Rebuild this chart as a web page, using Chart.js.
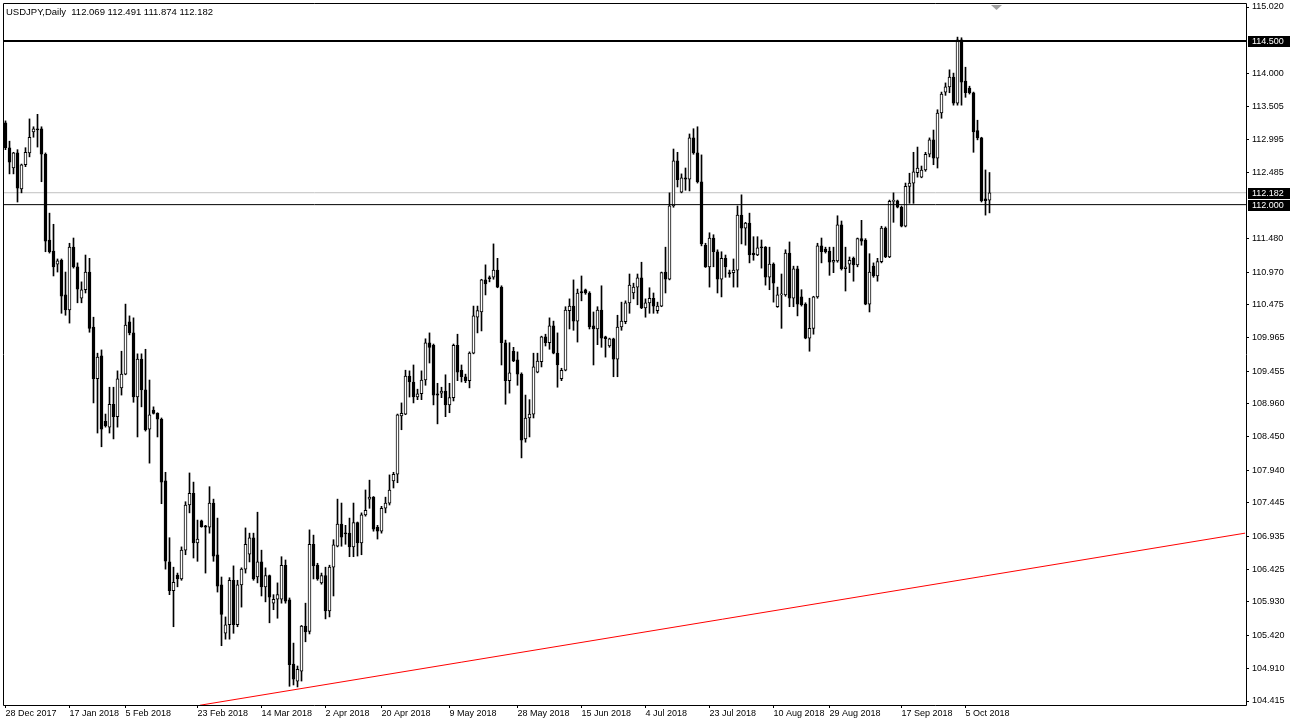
<!DOCTYPE html>
<html>
<head>
<meta charset="utf-8">
<title>USDJPY,Daily</title>
<script src="https://cdn.jsdelivr.net/npm/chart.js@4.4.1/dist/chart.umd.min.js"></script>
<style>
  html, body { margin: 0; padding: 0; background: #fff; }
  canvas { display: block; }
</style>
</head>
<body>
<canvas id="chart" width="1291" height="726"></canvas>
<script>
// USDJPY daily bars, 28 Dec 2017 .. 16 Oct 2018 (one value per bar)
var opens = [
  113.25,112.87,112.56,112.79,112.24,112.61,112.79,113.11,113.16,113.16,
  112.77,111.46,111.29,111.09,111.15,110.62,110.39,111.35,111.05,110.57,
  110.70,110.97,110.13,109.34,109.69,108.69,108.60,108.95,108.76,109.20,
  109.41,110.21,110.04,109.06,109.64,109.17,108.57,108.86,108.81,108.72,
  107.78,106.54,106.10,106.34,106.28,106.72,107.41,107.59,106.83,107.17,
  107.09,107.07,107.44,106.65,106.19,105.45,105.58,106.26,105.58,106.19,
  106.43,106.66,106.91,106.31,106.54,106.16,106.33,105.91,105.97,105.97,
  106.49,105.96,104.98,104.72,104.87,105.56,105.48,106.81,106.49,106.22,
  106.33,105.79,106.46,106.78,107.12,106.98,106.98,106.77,107.14,106.83,
  107.26,107.50,107.53,107.07,107.01,107.36,107.44,107.78,107.88,108.77,
  108.80,109.38,109.29,109.06,109.11,109.32,109.89,109.85,109.11,109.12,
  109.15,108.94,109.05,109.85,109.47,109.37,109.31,109.73,110.28,110.36,
  110.85,110.88,110.89,111.00,110.74,109.89,109.31,109.76,109.63,109.41,
  108.42,108.74,108.80,109.44,109.60,109.98,109.89,110.15,109.73,109.34,
  109.47,110.38,110.45,110.22,110.67,110.70,110.65,110.15,110.10,110.39,
  109.98,109.84,109.95,109.64,110.13,110.21,110.50,110.65,110.74,110.88,
  110.42,110.50,110.57,110.38,110.45,110.97,110.86,111.98,112.67,112.19,
  112.41,112.39,113.02,112.79,112.35,111.38,111.05,111.49,111.28,110.86,
  111.18,110.96,110.96,111.00,111.84,111.64,111.72,111.26,111.23,111.35,
  111.35,110.89,111.09,110.44,110.62,110.62,111.26,110.57,111.02,110.59,
  110.48,109.96,110.11,110.59,111.37,111.32,111.29,111.12,111.14,111.69,
  111.02,111.09,111.18,111.08,111.48,111.46,110.48,111.06,110.91,111.13,
  111.64,111.20,112.05,112.06,111.96,111.67,112.28,112.33,112.49,112.42,
  112.53,112.77,112.99,112.71,113.40,113.72,113.80,113.95,113.55,114.52,
  113.89,113.78,113.71,113.13,113.02,112.09,112.069
];
var highs = [
  113.28,112.97,112.80,112.84,112.62,112.87,113.31,113.19,113.38,113.19,
  112.79,111.87,111.70,111.17,111.17,110.97,111.41,111.49,111.11,110.82,
  111.23,111.18,110.28,109.73,109.78,108.80,109.21,109.21,109.46,109.76,
  110.48,110.30,110.27,109.72,109.72,109.79,109.32,108.91,108.82,108.74,
  107.91,106.91,106.46,106.37,106.77,107.46,107.90,107.76,107.18,107.18,
  107.10,107.69,107.50,107.21,106.31,105.70,106.30,106.48,106.26,106.45,
  107.06,106.98,106.98,107.30,106.72,106.45,106.34,106.04,106.22,106.62,
  106.57,105.99,105.30,104.95,105.57,105.91,107.03,106.95,106.52,106.37,
  106.46,106.49,106.88,107.50,107.44,107.10,107.21,107.44,107.15,107.29,
  107.64,107.79,107.54,107.10,107.39,107.53,107.87,107.91,108.80,108.97,
  109.47,109.46,109.55,109.18,109.46,109.95,110.04,109.87,109.27,109.21,
  109.40,109.27,109.87,110.02,109.55,109.41,109.75,110.45,110.45,110.86,
  111.08,110.91,111.40,111.18,110.76,109.93,109.89,109.82,109.75,109.43,
  109.09,109.02,109.73,109.73,109.99,110.02,110.27,110.22,110.04,109.50,
  110.44,110.56,110.85,110.71,110.91,110.71,110.67,110.36,110.44,110.76,
  109.99,109.96,109.96,110.31,110.51,110.53,110.94,110.80,110.94,111.12,
  110.56,110.73,110.65,110.51,110.97,111.35,112.18,112.85,112.80,112.47,
  112.56,113.08,113.16,113.19,112.76,111.41,111.57,111.54,111.31,111.28,
  111.23,111.00,111.17,111.98,112.15,111.73,111.87,111.51,111.51,111.46,
  111.36,111.35,111.11,110.74,110.94,111.31,111.43,111.06,111.06,110.70,
  110.50,110.57,110.60,111.41,111.49,111.35,111.35,111.35,111.83,111.75,
  111.35,111.20,111.20,111.49,111.76,111.48,111.25,111.11,111.18,111.67,
  111.66,112.07,112.18,112.07,111.98,112.33,112.48,112.80,112.88,112.59,
  112.80,113.02,113.14,113.45,113.72,113.86,114.06,114.01,114.56,114.55,
  114.10,113.81,113.72,113.29,113.03,112.53,112.491
];
var lows = [
  112.84,112.47,112.47,112.04,112.18,112.58,112.73,113.03,112.88,112.35,
  111.28,111.26,110.91,110.97,110.34,110.31,110.19,111.03,110.50,110.50,
  110.65,110.05,108.97,108.51,108.30,108.60,108.51,108.42,108.60,109.09,
  109.40,110.01,108.98,108.45,108.91,108.54,108.05,108.80,108.45,107.43,
  106.43,106.04,105.55,106.16,106.26,106.65,107.29,106.60,106.55,107.07,
  106.37,106.98,106.55,106.08,105.26,105.36,105.36,105.45,105.55,105.85,
  106.37,106.54,106.26,106.22,106.02,105.93,105.61,105.81,105.68,105.91,
  105.91,104.64,104.66,104.63,104.72,105.32,105.44,106.28,106.26,106.20,
  105.67,105.70,106.02,106.77,106.78,106.81,106.62,106.62,106.63,106.65,
  107.24,107.36,107.01,106.89,106.98,107.29,107.41,107.67,107.75,108.56,
  108.79,109.06,108.97,109.02,109.02,109.24,109.58,108.94,108.65,109.05,
  108.76,108.82,109.00,109.31,109.29,109.28,109.20,109.72,110.04,110.07,
  110.62,110.82,110.86,110.73,109.55,108.95,109.12,109.60,109.24,108.13,
  108.37,108.45,108.74,109.43,109.52,109.84,109.79,109.72,109.21,109.31,
  109.46,110.10,110.08,109.90,110.53,110.63,110.10,109.55,109.86,109.82,
  109.67,109.82,109.37,109.37,110.08,110.18,110.34,110.56,110.47,110.41,
  110.28,110.34,110.34,110.34,110.44,110.65,110.85,111.96,112.27,112.18,
  112.22,112.21,112.77,112.33,111.37,111.04,110.74,111.05,110.65,110.59,
  110.89,110.89,110.74,110.74,111.40,111.38,111.11,111.15,111.22,111.03,
  110.77,110.70,110.51,110.43,110.11,110.60,110.44,110.44,110.30,110.45,
  109.95,109.76,110.02,110.57,111.11,111.26,110.92,110.96,111.12,111.00,
  110.68,110.96,110.83,111.05,111.38,110.47,110.36,110.89,110.83,111.11,
  111.19,111.19,111.73,111.95,111.66,111.66,112.02,112.02,112.42,112.41,
  112.51,112.73,112.61,112.56,113.32,113.67,113.71,113.52,113.52,113.52,
  113.64,113.69,112.80,112.99,112.04,111.84,111.874
];
var closes = [
  112.87,112.65,112.79,112.25,112.61,112.80,113.03,113.16,113.14,112.77,
  111.44,111.28,111.05,111.14,110.60,110.39,111.35,111.05,110.71,110.70,
  110.97,110.11,109.34,109.67,108.57,108.62,108.95,108.76,109.34,109.41,
  110.16,110.04,109.06,109.64,109.17,108.56,108.79,108.81,108.72,107.76,
  106.55,106.10,106.23,106.28,106.72,107.41,107.59,106.83,106.89,107.08,
  107.07,107.44,106.63,106.17,105.74,105.58,106.26,105.58,106.19,106.43,
  106.81,106.91,106.28,106.54,106.16,106.33,106.00,105.97,106.04,106.49,
  105.94,104.97,104.75,104.90,105.56,105.47,106.81,106.48,106.28,106.33,
  105.79,106.46,106.80,107.12,106.92,106.97,106.77,107.14,106.83,107.26,
  107.33,107.53,107.04,107.01,107.36,107.44,107.64,107.88,108.79,108.81,
  109.38,109.29,109.06,109.11,109.32,109.89,109.82,109.09,109.09,109.15,
  108.94,109.05,109.85,109.44,109.37,109.31,109.73,110.30,110.38,110.85,
  110.79,110.87,111.00,110.74,109.89,109.31,109.43,109.61,109.41,108.40,
  108.74,108.80,109.52,109.61,109.98,109.89,110.15,109.73,109.55,109.47,
  110.39,110.45,110.22,110.65,110.65,110.65,110.13,110.10,110.39,109.96,
  109.95,109.95,109.64,110.13,110.22,110.50,110.77,110.74,110.88,110.42,
  110.50,110.57,110.45,110.45,110.96,110.86,111.98,112.67,112.38,112.41,
  112.39,113.02,112.79,112.35,111.40,111.05,111.49,111.28,110.86,111.18,
  111.05,110.94,111.00,111.84,111.64,111.72,111.23,111.23,111.34,111.34,
  110.89,111.09,110.80,110.62,110.63,111.26,110.57,111.02,110.48,110.47,
  109.96,110.11,110.59,111.37,111.28,111.28,111.12,111.15,111.69,111.02,
  111.05,111.15,111.08,111.48,111.44,110.48,110.97,110.91,111.13,111.64,
  111.20,112.05,112.06,111.96,111.67,112.28,112.33,112.50,112.56,112.53,
  112.77,112.99,112.71,113.40,113.69,113.80,113.95,113.55,114.52,113.87,
  113.71,113.71,113.11,113.02,112.06,112.06,112.182
];

// date labels on the time axis (bar index, text)
var dateTickIdx = [0, 16, 30, 48, 64, 80, 94, 111, 128, 144, 160, 176, 192, 206, 224, 240];
var dateTickText = ['28 Dec 2017', '17 Jan 2018', '5 Feb 2018', '23 Feb 2018', '14 Mar 2018', '2 Apr 2018',
  '20 Apr 2018', '9 May 2018', '28 May 2018', '15 Jun 2018', '4 Jul 2018', '23 Jul 2018',
  '10 Aug 2018', '29 Aug 2018', '17 Sep 2018', '5 Oct 2018'];

// price scale labels
var priceTicks = [115.020, 114.000, 113.505, 112.995, 112.485, 111.480, 110.970, 110.475, 109.965,
  109.455, 108.960, 108.450, 107.940, 107.445, 106.935, 106.425, 105.930, 105.420, 104.910, 104.415];

// horizontal levels: resistance, bid, support
var levelPrices = [114.500, 112.182, 112.000];
var levelColors = ['#000000', '#c0c0c0', '#000000'];
var levelWidths = [2, 1, 1];

// red trend line, two anchor points (bar index, price)
var trendIdx = [48.6, 309.9];
var trendPrice = [104.35, 106.98];

var X_MIN = -0.375, X_MAX = 310.125;
var Y_MIN = 104.354, Y_MAX = 115.066;
var FONT = 'Liberation Sans';

var wicks = [], bodies = [], bodyColors = [];
for (var i = 0; i < opens.length; i++) {
  wicks.push({x: i, y: [lows[i], highs[i]]});
  bodies.push({x: i, y: [Math.min(opens[i], closes[i]), Math.max(opens[i], closes[i])]});
  bodyColors.push(closes[i] > opens[i] ? '#ffffff' : '#000000');
}

var datasets = [];
levelPrices.forEach(function (p, k) {
  datasets.push({
    type: 'line', data: [{x: X_MIN, y: p}, {x: X_MAX, y: p}],
    borderColor: levelColors[k], borderWidth: levelWidths[k], pointRadius: 0, order: k === 1 ? 3 : -1
  });
});
datasets.push({
  type: 'line', data: [{x: trendIdx[0], y: trendPrice[0]}, {x: trendIdx[1], y: trendPrice[1]}],
  borderColor: '#ff0000', borderWidth: 1, pointRadius: 0, order: -1
});
datasets.push({
  type: 'bar', data: wicks, backgroundColor: '#000000', barThickness: 1, grouped: false, order: 2
});
datasets.push({
  type: 'bar', data: bodies, backgroundColor: bodyColors, borderColor: '#000000', borderWidth: 1,
  borderSkipped: false, barThickness: 3, grouped: false, minBarLength: 1, order: 1
});

var overlay = {
  id: 'overlay',
  afterDraw: function (chart) {
    var ctx = chart.ctx, a = chart.chartArea, y = chart.scales.y;
    ctx.save();
    // chart frame
    ctx.strokeStyle = '#000';
    ctx.lineWidth = 1;
    ctx.beginPath();
    ctx.moveTo(a.left - 0.5, a.top - 0.5);
    ctx.lineTo(a.right + 0.5, a.top - 0.5);
    ctx.lineTo(a.right + 0.5, a.bottom + 0.5);
    ctx.lineTo(a.left - 0.5, a.bottom + 0.5);
    ctx.closePath();
    ctx.stroke();

    // level price boxes on the right scale
    ctx.font = '9px "' + FONT + '"';
    ctx.textBaseline = 'middle';
    ctx.textAlign = 'left';
    levelPrices.forEach(function (p) {
      var py = Math.round(y.getPixelForValue(p));
      ctx.fillStyle = '#000';
      ctx.fillRect(a.right + 2, py - 5, 42, 11);
      ctx.fillStyle = '#fff';
      ctx.fillText(p.toFixed(3), a.right + 6, py + 0.5);
    });

    // symbol caption
    ctx.fillStyle = '#000';
    ctx.font = '9.5px "' + FONT + '"';
    ctx.fillText('USDJPY,Daily  112.069 112.491 111.874 112.182', 6, 12);

    // chart shift marker
    ctx.fillStyle = '#a0a0a0';
    ctx.beginPath();
    ctx.moveTo(991, a.top + 1);
    ctx.lineTo(1002, a.top + 1);
    ctx.lineTo(996.5, a.top + 6);
    ctx.closePath();
    ctx.fill();
    ctx.restore();
  }
};

new Chart(document.getElementById('chart'), {
  type: 'bar',
  data: {datasets: datasets},
  options: {
    responsive: false,
    animation: false,
    events: [],
    layout: {padding: {left: 4, top: 4, right: 0, bottom: 0}},
    plugins: {legend: {display: false}, tooltip: {enabled: false}, title: {display: false}},
    scales: {
      x: {
        type: 'linear', min: X_MIN, max: X_MAX, offset: false,
        border: {display: false},
        grid: {display: true, drawOnChartArea: false, drawTicks: true, tickLength: 3, tickColor: '#000', offset: false},
        ticks: {
          autoSkip: false, maxRotation: 0, align: 'start', padding: 0, color: '#000',
          font: {family: FONT, size: 9},
          callback: function (v) {
            var k = dateTickIdx.indexOf(v);
            return k < 0 ? '' : dateTickText[k];
          }
        },
        afterBuildTicks: function (s) { s.ticks = dateTickIdx.map(function (v) { return {value: v}; }); },
        afterFit: function (s) { s.height = 21; s.paddingLeft = 0; s.paddingRight = 0; }
      },
      y: {
        type: 'linear', position: 'right', min: Y_MIN, max: Y_MAX, beginAtZero: false,
        border: {display: false},
        grid: {display: true, drawOnChartArea: false, drawTicks: true, tickLength: 3, tickColor: '#000'},
        ticks: {
          padding: 3, color: '#000', font: {family: FONT, size: 9},
          callback: function (v) { return v.toFixed(3); }
        },
        afterBuildTicks: function (s) { s.ticks = priceTicks.map(function (v) { return {value: v}; }); },
        afterFit: function (s) { s.width = 45; s.paddingTop = 0; s.paddingBottom = 0; }
      }
    }
  },
  plugins: [overlay]
});
</script>
</body>
</html>
